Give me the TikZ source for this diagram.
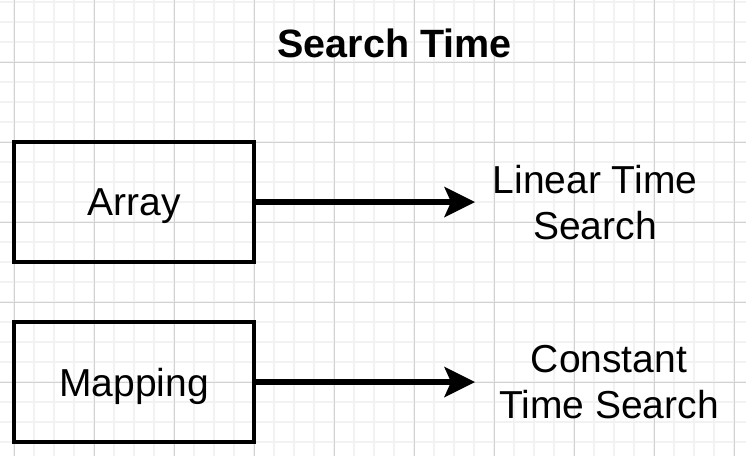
\documentclass[tikz,border=0pt]{standalone}
\usepackage{fontspec}
\setmainfont{Liberation Sans}
\usetikzlibrary{arrows.meta}
\definecolor{gridminor}{RGB}{242,242,242}
\definecolor{gridmajor}{RGB}{210,210,210}
\tikzset{
  boxnode/.style={draw=black, line width=4pt, minimum width=240pt, minimum height=120pt, inner sep=0pt, outer sep=0pt},
  lbl/.style={font=\fontsize{39}{46}\selectfont, align=center, inner sep=0pt, text depth=0pt},
  titlelbl/.style={font=\fontsize{39.5}{46}\selectfont\bfseries, inner sep=0pt, anchor=base},
  conn/.style={line width=5.5pt, -{Stealth[length=31pt,width=31pt,inset=7pt,line width=0pt]}}
}
\begin{document}
\begin{tikzpicture}[x=1pt,y=-1pt]
\useasboundingbox (0,0) rectangle (746,456);
\fill[white] (0,0) rectangle (746,456);
% minor grid
\foreach \gx in {14,34,...,734} \draw[gridminor, line width=1.2pt] (\gx,0) -- (\gx,456);
\foreach \gy in {2,22,...,442} \draw[gridminor, line width=1.2pt] (0,\gy) -- (746,\gy);
% major grid
\foreach \gx in {14,94,...,734} \draw[gridmajor, line width=1pt] (\gx,0) -- (\gx,456);
\foreach \gy in {62,142,...,382} \draw[gridmajor, line width=1pt] (0,\gy) -- (746,\gy);

\node[titlelbl] (title) at (394.5,57) {Search Time};

\node[boxnode] (array) at (134,202) {};
\node[lbl, anchor=base] (arraytxt) at (134,215) {Array};
\node[boxnode] (mapping) at (134,381.5) {};
\node[lbl, anchor=base] (mappingtxt) at (134,396.5) {Mapping};

\node[lbl] (linear) at (595,202) {Linear Time\\Search};
\node[lbl] (constant) at (609,381.5) {Constant\\Time Search};

\coordinate (t1) at (475,202);
\coordinate (t2) at (475,382);
\draw[conn] (array.east) -- (t1);
\draw[conn] (mapping.east |- t2) -- (t2);
\end{tikzpicture}
\end{document}
